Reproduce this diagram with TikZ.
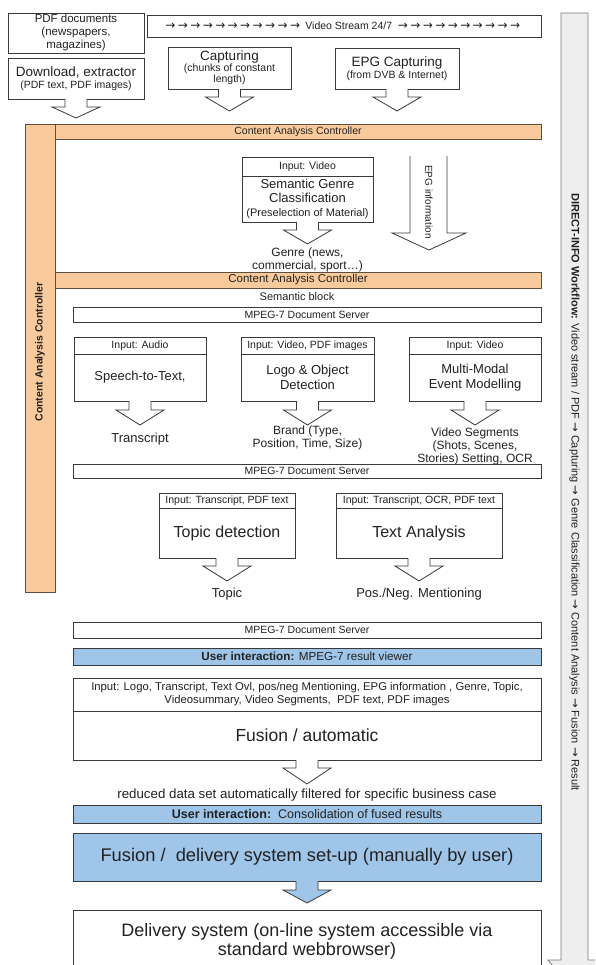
\documentclass[tikz,border=0pt]{standalone}
\usepackage{fontspec}
\setmainfont{Liberation Sans}
\newfontfamily\symf{DejaVu Sans}
\definecolor{orng}{HTML}{F9CB9C}
\definecolor{orngd}{HTML}{5E4E40}
\definecolor{blu}{HTML}{9FC5E8}
\definecolor{lnc}{HTML}{3A3A3A}
\definecolor{grayf}{HTML}{EEEEEE}
\definecolor{grayl}{HTML}{7A7A7A}
\definecolor{txt}{HTML}{222222}
\newcommand\fs[2]{\fontsize{#1}{#2}\selectfont}
\newcommand\va{{\symf\fs{12}{12}→}\hspace{2.4pt}}
\newcommand\wa{{\symf\fs{11.5}{12}→}}
\newcommand\bx[7][]{\node[box,minimum width=#5pt,minimum height=#6pt,#1] (#2) at (#3,#4) {#7};}
% callout arrow under a box: [fill]{node}{stem length}{total length}
\newcommand\callout[4][white]{%
  \draw[boxline,fill=#1] ([shift={(-11,0)}]#2.south) -- ([shift={(-11,#3)}]#2.south)
    -- ([shift={(-24,#3)}]#2.south) -- ([shift={(0,#4)}]#2.south)
    -- ([shift={(24,#3)}]#2.south) -- ([shift={(11,#3)}]#2.south)
    -- ([shift={(11,0)}]#2.south);}
\begin{document}
\begin{tikzpicture}[x=1pt,y=-1pt,
  boxline/.style={draw=lnc,line width=0.8pt},
  box/.style={boxline,fill=white,anchor=north west,inner sep=0pt,outer sep=0pt,align=center,text=txt},
  obar/.style={box,fill=orng,draw=orngd},
  bbar/.style={box,fill=blu},
  lbl/.style={inner sep=0pt,align=center,text=txt}]
\useasboundingbox (0,0) rectangle (595,965);
\fill[white] (0,0) rectangle (595,965);
\clip (0,0) rectangle (595,965);

% right workflow arrow
\draw[draw=grayl,fill=grayf,line width=0.8pt] (561,13) -- (588,13) -- (588,960) -- (601,960) -- (574.5,992) -- (548,960) -- (561,960) -- cycle;
\node[lbl,rotate=-90,font=\fs{11}{13}] (wf) at (574.5,492) {\textbf{DIRECT-INFO Workflow:} Video stream / PDF \wa{} Capturing \wa{} Genre Classification \wa{} Content Analysis \wa{} Fusion \wa{} Result};

% top row
\bx[font=\fs{11.5}{13}]{pdf}{8}{13}{136}{40}{PDF documents\\(newspapers,\\magazines)}
\bx[font=\fs{10.5}{12}]{vs}{147}{15}{394}{22}{\va\va\va\va\va\va\va\va\va\va\va\ Video Stream 24/7\ \ \va\va\va\va\va\va\va\va\va\va}
\bx[font=\fs{10.5}{12}]{dl}{8}{58}{136}{41}{\fs{13.5}{15}Download, extractor\\\fs{10.5}{12}(PDF text, PDF images)}
\callout{dl}{8}{19}
\bx[font=\fs{10.5}{11}]{cap}{168}{47}{123}{42}{\fs{13.5}{15}Capturing\\\fs{10.5}{11}(chunks of constant\\\fs{10.5}{11}length)}
\callout{cap}{8}{22}
\bx[font=\fs{10.5}{12}]{epg}{335}{48}{124}{41}{\fs{13.5}{15}EPG Capturing\\\fs{10.5}{12}(from DVB \& Internet)}
\callout{epg}{8}{22}

% controller bars
\bx[obar]{lbar}{25}{124}{30}{468}{}
\node[lbl,rotate=90,font=\bfseries\fs{10.5}{12}] (lbt) at (40,352) {Content Analysis Controller};
\bx[obar,font=\fs{10.5}{12}]{cac1}{55}{124}{486}{15}{Content Analysis Controller}
\bx[obar,font=\fs{11.5}{13}]{cac2}{55}{272}{486}{16}{Content Analysis Controller}

% genre classification
\bx[font=\fs{10.5}{12}]{gh}{242}{157}{131}{19}{Input: Video}
\bx[font=\fs{13}{14}]{gb}{242}{176}{131}{46}{\fs{13}{14}Semantic Genre\\\fs{13}{14}Classification\\\fs{11}{13}(Preselection of Material)}
\callout{gb}{8}{22}
\node[lbl,font=\fs{12}{12.5}] (genre) at (307.5,260) {Genre (news,\\commercial, sport…)};

% EPG information arrow
\draw[boxline,fill=white] (410,156) -- (410,233) -- (392,233) -- (429,250) -- (466,233) -- (447,233) -- (447,156);
\node[lbl,rotate=-90,font=\fs{10}{11}] (epgi) at (429,202) {EPG information};

\node[lbl,font=\fs{11}{13}] (sb) at (297,297) {Semantic block};
\bx[font=\fs{10.5}{12}]{m1}{73}{307}{468}{15}{MPEG-7 Document Server}

% three analysis boxes
\bx[font=\fs{10.5}{12}]{ah}{74}{337}{132}{17}{Input: Audio}
\bx[font=\fs{13}{15}]{ab}{74}{354}{132}{47}{Speech-to-Text,}
\callout{ab}{9}{24}
\node[lbl,font=\fs{13}{15}] (tr) at (140,439) {Transcript};

\bx[font=\fs{10.5}{12}]{bh}{241}{337}{133}{17}{Input: Video, PDF images}
\bx[font=\fs{13}{15}]{bb}{241}{354}{133}{47}{Logo \& Object\\Detection}
\callout{bb}{9}{24}
\node[lbl,font=\fs{12}{12.5}] (brand) at (307.5,438) {Brand (Type,\\Position, Time, Size)};

\bx[font=\fs{10.5}{12}]{ch}{409}{337}{132}{17}{Input: Video}
\bx[font=\fs{13}{15}]{cb}{409}{354}{132}{47}{Multi-Modal\\Event Modelling}
\callout{cb}{9}{24}
\node[lbl,font=\fs{12}{13}] (vseg) at (475,446) {Video Segments\\(Shots, Scenes,\\Stories) Setting, OCR};

\bx[font=\fs{10.5}{12}]{m2}{73}{464}{468}{14}{MPEG-7 Document Server}

% topic / text analysis
\bx[font=\fs{10.5}{12}]{th}{159}{493}{136}{15}{Input: Transcript, PDF text}
\bx[font=\fs{16}{18}]{tb}{159}{508}{136}{50}{Topic detection}
\callout{tb}{8}{23}
\node[lbl,font=\fs{13}{15}] (topic) at (227,594) {Topic};

\bx[font=\fs{10.5}{12}]{xh}{336}{493}{166}{15}{Input: Transcript, OCR, PDF text}
\bx[font=\fs{16}{18}]{xb}{336}{508}{166}{50}{Text Analysis}
\callout{xb}{8}{23}
\node[lbl,font=\fs{13}{15}] (posneg) at (419,594) {Pos./Neg. Mentioning};

\bx[font=\fs{10.5}{12}]{m3}{73}{622}{468}{16}{MPEG-7 Document Server}
\bx[bbar,font=\fs{11.7}{13}]{u1}{73}{648}{468}{17}{\textbf{User interaction:} MPEG-7 result viewer}

% fusion
\bx[font=\fs{11.3}{13}]{fh}{73}{678}{468}{33}{Input: Logo, Transcript, Text Ovl, pos/neg Mentioning, EPG information , Genre, Topic,\\Videosummary, Video Segments,\ \ PDF text, PDF images}
\bx[font=\fs{17.5}{19}]{fb}{73}{711}{468}{49}{Fusion / automatic}
\callout{fb}{8}{24}
\node[lbl,font=\fs{13.3}{15}] (red) at (307,795) {reduced data set automatically filtered for specific business case};
\bx[bbar,font=\fs{12.5}{14}]{u2}{73}{805}{468}{18}{\textbf{User interaction:}\ \ Consolidation of fused results}
\bx[bbar,font=\fs{18.3}{20}]{fd}{73}{833}{468}{48}{Fusion /\ \ delivery system set-up (manually by user)}
\callout[blu]{fd}{9}{22}
\bx[font=\fs{18}{19}]{del}{73}{910}{468}{62}{Delivery system (on-line system accessible via\\standard webbrowser)}
\end{tikzpicture}
\end{document}
